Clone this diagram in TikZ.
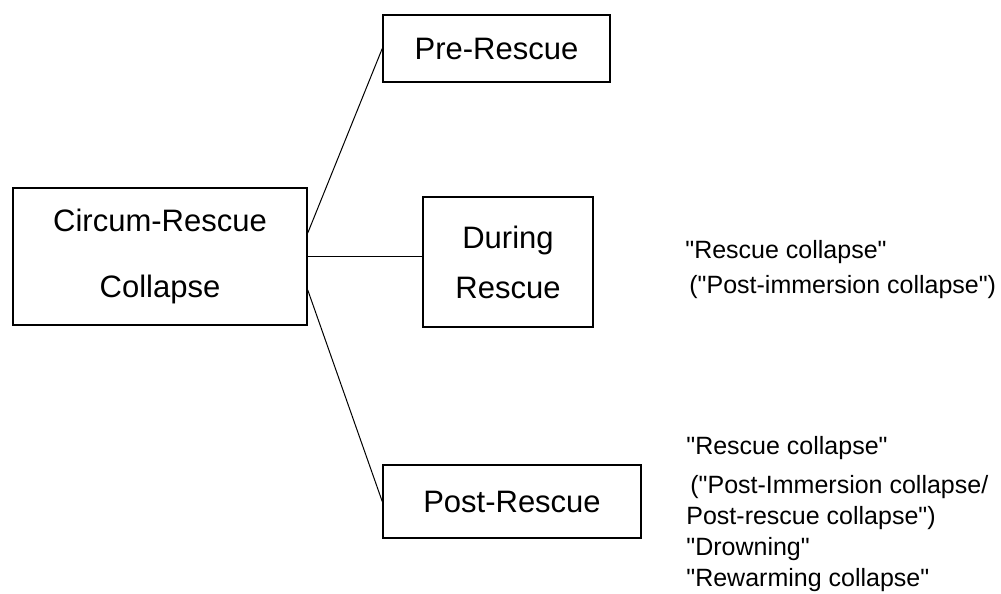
\documentclass[tikz,border=0pt]{standalone}
\usepackage{fontspec}
\setmainfont{Liberation Sans}[Ligatures=TeXOff]
\usetikzlibrary{positioning}
\tikzset{
  box/.style={
    draw, line width=0.75pt, align=center, inner sep=0pt,
    font=\fontsize{15.5}{25}\selectfont
  },
  link/.style={line width=0.5pt},
  note/.style={
    anchor=north west, align=left, inner sep=0pt,
    font=\fontsize{12.5}{17.5}\selectfont
  }
}

\begin{document}
\begin{tikzpicture}[x=0.5pt,y=-0.5pt]
  \useasboundingbox (0,0) rectangle (1001,594);
  \node[box,minimum width=147pt,minimum height=68.5pt,font=\fontsize{15.5}{33}\selectfont] (C) at (160,256.5) {Circum-Rescue\\Collapse};
  \node[box,minimum width=113.5pt,minimum height=33.5pt] (pre) at (496.5,48.5) {Pre-Rescue};
  \node[box,minimum width=85pt,minimum height=65pt] (during) at (508,262) {During\\Rescue};
  \node[box,minimum width=129pt,minimum height=36.5pt] (post) at (512,501.5) {Post-Rescue};
  \draw[link] ([yshift=11.75pt]C.east) -- (pre.west);
  \draw[link] (C.east) -- (C.east -| during.west);
  \draw[link] ([yshift=-16.75pt]C.east) -- (post.west);

  \node[note] (n1) at (685,240) {"Rescue collapse"\\\hspace{2pt}("Post-immersion collapse")};
  \node[note,font=\fontsize{12.5}{15.5}\selectfont] (n2) at (686,436) {"Rescue collapse"\\[4pt]\hspace{2pt}("Post-Immersion collapse/\\Post-rescue collapse")\\"Drowning"\\"Rewarming collapse"};
\end{tikzpicture}
\end{document}
